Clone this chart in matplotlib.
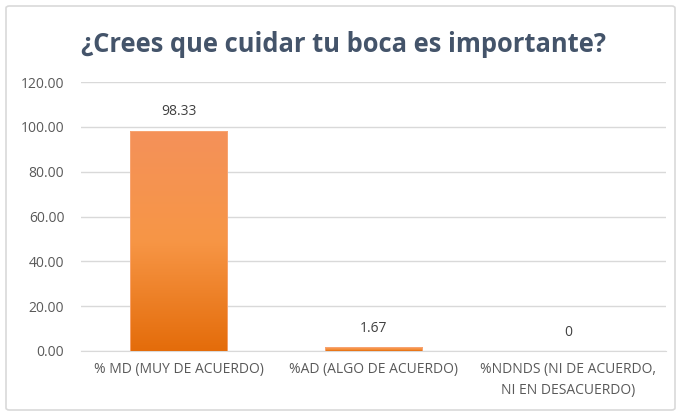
import numpy as np
import matplotlib.pyplot as plt
from matplotlib.patches import FancyBboxPatch
from matplotlib.colors import LinearSegmentedColormap

# --- data ---
categories = ["% MD (MUY DE ACUERDO)", "%AD (ALGO DE ACUERDO)",
              "%NDNDS (NI DE ACUERDO,\nNI EN DESACUERDO)"]
values = [98.33, 1.67, 0]
value_labels = ["98.33", "1.67", "0"]
yticks = [0, 20, 40, 60, 80, 100, 120]

plt.rcParams['font.family'] = ['Open Sans', 'DejaVu Sans']

fig = plt.figure(figsize=(6.81, 4.16), dpi=100)
ax = fig.add_axes([81 / 681, 1 - 351 / 416, 585 / 681, 269 / 416])

# chart border
fig.patches.append(FancyBboxPatch((6 / 681, 6 / 416), 669 / 681, 404 / 416,
                                  boxstyle="round,pad=0,rounding_size=0.005",
                                  transform=fig.transFigure, fill=False,
                                  edgecolor="#D9D9D9", linewidth=1.2))

x = np.arange(len(categories))
bars = ax.bar(x, values, width=0.5, color="none", zorder=3)

# vertical orange gradient in each bar
grad = np.linspace(0, 1, 256).reshape(-1, 1)
cmap = LinearSegmentedColormap.from_list("og", ["#E46C0A", "#F79646", "#F4915A"])
for b in bars:
    h = b.get_height()
    if h <= 0:
        continue
    x0, w = b.get_x(), b.get_width()
    im = ax.imshow(grad, extent=(x0, x0 + w, 0, h), origin="lower", cmap=cmap,
                   aspect="auto", zorder=3)
    im.set_clip_path(b)
    ax.bar(b.get_x() + w / 2, h, width=w, fill=False, edgecolor="#F8A878",
           linewidth=0.6, zorder=4)

for xi, v, lab in zip(x, values, value_labels):
    ax.annotate(lab, (xi, v), xytext=(0, 8), textcoords="offset points",
                ha="center", va="bottom", fontsize=10, color="#404040")

ax.set_xlim(-0.5, 2.5)
ax.set_ylim(0, 120)
ax.set_yticks(yticks)
ax.set_yticklabels([f"{t:.2f}" for t in yticks])
ax.set_xticks(x)
ax.set_xticklabels(categories, linespacing=1.5)
ax.tick_params(axis="both", length=0, labelsize=10, labelcolor="#595959")
ax.tick_params(axis="x", pad=8)
ax.tick_params(axis="y", pad=12)
ax.grid(axis="y", color="#D9D9D9", linewidth=1, zorder=0)
for s in ["top", "right", "left"]:
    ax.spines[s].set_visible(False)
ax.spines["bottom"].set_color("#D9D9D9")

fig.text(0.505, 1 - 45 / 416, "¿Crees que cuidar tu boca es importante?",
         ha="center", va="center", fontsize=18.4, fontweight="bold", color="#44546A")

fig.savefig("out.png", dpi=100)
